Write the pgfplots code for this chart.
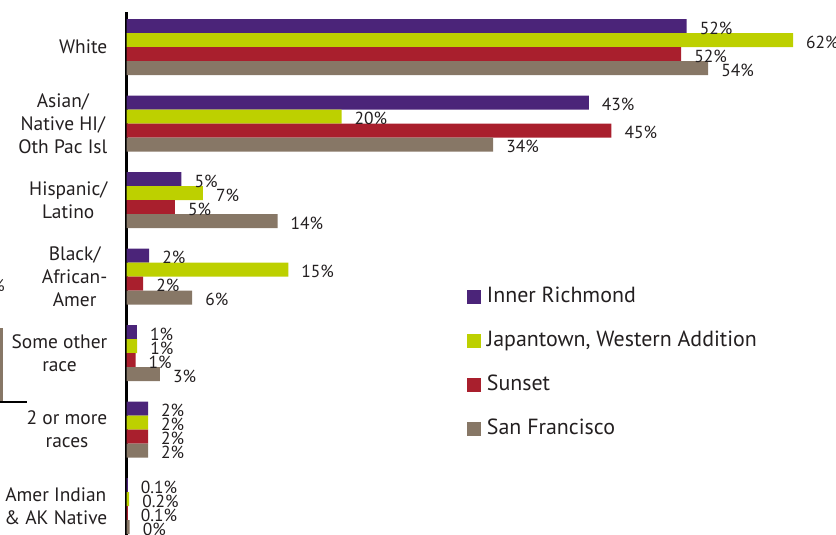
\documentclass[border=0pt]{standalone}
\usepackage{pgfplots}
\pgfplotsset{compat=1.18}
\usepackage{pgfplotstable}
\usepackage{fontspec}
\setmainfont{PT Sans}
\definecolor{cIR}{HTML}{4B2479}
\definecolor{cJT}{HTML}{BDD000}
\definecolor{cSU}{HTML}{A91F2D}
\definecolor{cSF}{HTML}{877766}
\definecolor{txt}{HTML}{231F20}

\pgfplotstableread{
cat val lab
0 52.1 52
1 43.0 43
2 5.1 5
3 2.1 2
4 0.96 1
5 2.0 2
6 0.12 0.1
}\innerrichmond
\pgfplotstableread{
cat val lab
0 62.0 62
1 20.0 20
2 7.1 7
3 15.05 15
4 0.99 1
5 2.0 2
6 0.25 0.2
}\japantown
\pgfplotstableread{
cat val lab
0 51.6 52
1 45.1 45
2 4.5 5
3 1.55 2
4 0.84 1
5 2.0 2
6 0.12 0.1
}\sunset
\pgfplotstableread{
cat val lab
0 54.1 54
1 34.1 34
2 14.05 14
3 6.1 6
4 3.1 3
5 2.0 2
6 0.3 0
}\sanfrancisco

\begin{document}
\begin{tikzpicture}
\useasboundingbox (0,0) rectangle (836bp,-535bp);
\begin{axis}[
  at={(126.5bp,-12bp)}, anchor=north west,
  scale only axis, width=709.5bp, height=523bp,
  xbar, bar width=14bp,
  xmin=0, xmax=66, ymin=-0.4575, ymax=6.379, y dir=reverse,
  axis x line=none, axis y line*=left,
  y axis line style={line width=2.4bp, black},
  ytick={0,...,6},
  yticklabels={White, {Asian/\\Native HI/\\Oth Pac Isl}, {Hispanic/\\Latino}, {Black/\\African-\\Amer}, {Some other\\race}, {2 or more\\races}, {Amer Indian\\\& AK Native}},
  major tick length=0pt,
  yticklabel style={align=center, font=\fontsize{19.5}{23}\selectfont, text=txt, inner sep=0pt, xshift=-19bp},
  point meta=explicit symbolic,
  nodes near coords={\pgfplotspointmeta\%},
  nodes near coords style={font=\fontsize{17.5}{20}\selectfont, text=txt, anchor=west, inner sep=0pt, xshift=13bp, yshift=-2bp},
  legend style={draw=none, fill=none, at={(0.4795,0.4742)}, anchor=north west, inner sep=0pt,
    font=\fontsize{22}{26}\selectfont, text=txt, row sep=24bp, column sep=6bp,
    nodes={inner sep=0pt, text height=15bp, text depth=5bp}},
  legend cell align=left,
  legend image code/.code={\fill[#1] (0bp,-7bp) rectangle (14bp,7bp);},
  clip=false,
]
\addplot[fill=cIR, draw=none, bar shift=21bp] table[x=val, y=cat, meta=lab] {\innerrichmond};
\addplot[fill=cJT, draw=none, bar shift=7bp] table[x=val, y=cat, meta=lab] {\japantown};
\addplot[fill=cSU, draw=none, bar shift=-7bp] table[x=val, y=cat, meta=lab] {\sunset};
\addplot[fill=cSF, draw=none, bar shift=-21bp] table[x=val, y=cat, meta=lab] {\sanfrancisco};
\legend{Inner Richmond, {Japantown, Western Addition}, Sunset, San Francisco}
\end{axis}
\draw[cSF, line width=3bp] (1.5bp,-328bp) -- (1.5bp,-402bp);
\draw[black, line width=2bp] (0bp,-402bp) -- (27bp,-402bp);
\node[anchor=east, inner sep=0pt, font=\fontsize{17}{20}\selectfont, text=txt] at (5bp,-286bp) {\%};
\end{tikzpicture}
\end{document}
